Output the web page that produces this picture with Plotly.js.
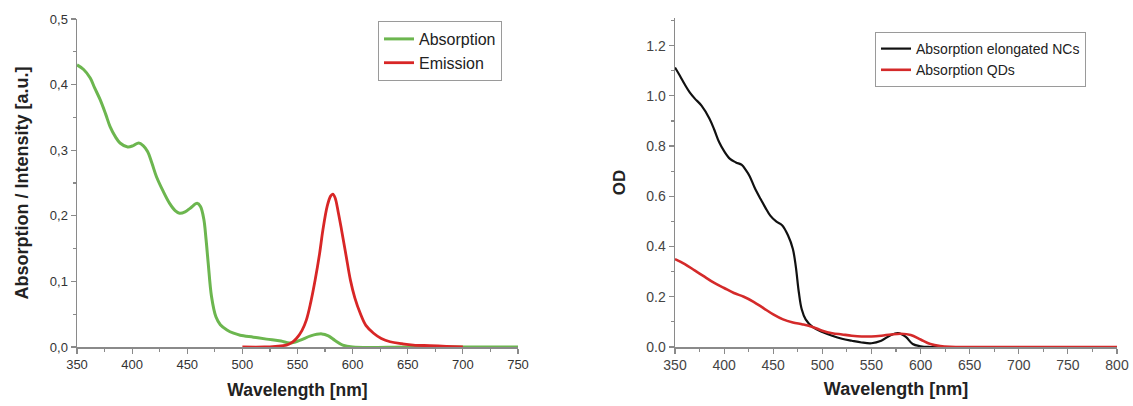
<!DOCTYPE html>
<html>
<head>
<meta charset="utf-8">
<script src="https://cdn.plot.ly/plotly-3.0.1.min.js"></script>
<style>
html,body{margin:0;padding:0;background:#fff;}
#chart{width:1133px;height:406px;}
</style>
</head>
<body>
<div id="chart"></div>
<script>
// Left panel: absorption & emission
const absWl = [350,356,362,366,371,376,380,385,389,396,401,406,410,414,418,422,428,434,439,443,448,453,459,462,465,467,469,472,476,480,486,492,498,510,522,535,543,552,562,572,578,584,591,600,650,700,750];
const absVal = [0.43,0.423,0.41,0.395,0.377,0.355,0.336,0.32,0.311,0.305,0.307,0.311,0.307,0.298,0.28,0.26,0.238,0.219,0.208,0.204,0.206,0.212,0.219,0.214,0.195,0.165,0.128,0.077,0.046,0.034,0.026,0.021,0.018,0.015,0.012,0.009,0.006,0.01,0.017,0.02,0.017,0.01,0.003,0,0,0,0];
const emWl = [500,520,530,540,545,549,554,558,562,566,570,573,577,580,582,584,587,590,594,598,602,607,612,619,626,634,645,655,670,685,700];
const emVal = [0,0,0.001,0.003,0.007,0.013,0.025,0.041,0.068,0.102,0.142,0.178,0.215,0.23,0.233,0.228,0.205,0.178,0.14,0.102,0.075,0.051,0.033,0.021,0.013,0.008,0.005,0.003,0.002,0.001,0];
const leftYTickVals = [0,0.1,0.2,0.3,0.4,0.5];
const leftYTickText = ['0,0','0,1','0,2','0,3','0,4','0,5'];

// Right panel: OD
const ncWl = [350,355,360,365,370,377,385,390,395,400,406,412,418,422,426,431,437,442,447,453,459,465,470,473,476,479,483,490,500,510,520,530,540,550,560,570,577,585,592,600,610,700,800];
const ncVal = [1.113,1.08,1.045,1.014,0.99,0.961,0.91,0.865,0.815,0.78,0.749,0.735,0.725,0.705,0.68,0.635,0.59,0.555,0.523,0.5,0.485,0.445,0.39,0.32,0.22,0.15,0.11,0.08,0.06,0.045,0.033,0.025,0.018,0.015,0.025,0.048,0.055,0.04,0.012,0.003,0,0,0];
const qdWl = [350,360,370,380,390,400,410,420,430,440,450,460,470,480,490,500,510,520,530,540,550,560,570,580,590,600,610,620,630,650,700,750,800];
const qdVal = [0.35,0.33,0.305,0.28,0.255,0.235,0.215,0.2,0.18,0.155,0.13,0.11,0.098,0.09,0.08,0.065,0.055,0.05,0.045,0.042,0.042,0.045,0.05,0.053,0.048,0.03,0.012,0.004,0.001,0,0,0,0];

const FONT = 'Liberation Sans, Arial, sans-serif';
const axisCommon = {
  showline: true, linecolor: '#8a8a8a', linewidth: 1.5,
  ticks: 'outside', ticklen: 5, tickwidth: 1.2, tickcolor: '#8a8a8a',
  showgrid: false, zeroline: false, mirror: false,
  tickfont: {family: FONT, size: 13, color: '#333'},
  automargin: false
};

const traces = [
  {x: absWl, y: absVal, name: 'Absorption', type: 'scatter', mode: 'lines',
   line: {color: '#6cb64f', width: 3, shape: 'spline'}, xaxis: 'x', yaxis: 'y', legend: 'legend'},
  {x: emWl, y: emVal, name: 'Emission', type: 'scatter', mode: 'lines',
   line: {color: '#d82626', width: 2.8, shape: 'spline'}, xaxis: 'x', yaxis: 'y', legend: 'legend'},
  {x: ncWl, y: ncVal, name: 'Absorption elongated NCs', type: 'scatter', mode: 'lines',
   line: {color: '#111', width: 2.2, shape: 'spline'}, xaxis: 'x2', yaxis: 'y2', legend: 'legend2'},
  {x: qdWl, y: qdVal, name: 'Absorption QDs', type: 'scatter', mode: 'lines',
   line: {color: '#d42a2a', width: 2.6, shape: 'spline'}, xaxis: 'x2', yaxis: 'y2', legend: 'legend2'}
];

const layout = {
  width: 1133, height: 406,
  margin: {l: 0, r: 0, t: 0, b: 0},
  paper_bgcolor: '#fff', plot_bgcolor: '#fff',
  font: {family: FONT, color: '#222'},
  showlegend: true,
  xaxis: Object.assign({}, axisCommon, {
    domain: [77/1133, 518/1133], range: [350, 750], dtick: 50, tick0: 350,
    minor: {dtick: 25, ticklen: 3, tickcolor: '#8a8a8a', ticks: 'outside'},
    anchor: 'y',
    title: {text: '<b>Wavelength [nm]</b>', font: {family: FONT, size: 17.5, color: '#222'}, standoff: 12}
  }),
  yaxis: Object.assign({}, axisCommon, {
    domain: [1 - 347/406, 1 - 19/406], range: [0, 0.5],
    tickvals: leftYTickVals, ticktext: leftYTickText,
    minor: {dtick: 0.05, ticklen: 3, tickcolor: '#8a8a8a', ticks: 'outside'},
    anchor: 'x',
    title: {text: '<b>Absorption / Intensity [a.u.]</b>', font: {family: FONT, size: 18, color: '#222'}, standoff: 16}
  }),
  xaxis2: Object.assign({}, axisCommon, {
    domain: [675/1133, 1117/1133], range: [350, 800], dtick: 50, tick0: 350,
    minor: {dtick: 25, ticklen: 3, tickcolor: '#8a8a8a', ticks: 'outside'},
    anchor: 'y2',
    tickfont: {family: FONT, size: 14, color: '#444'},
    title: {text: '<b>Wavelength [nm]</b>', font: {family: FONT, size: 18, color: '#222'}, standoff: 10}
  }),
  yaxis2: Object.assign({}, axisCommon, {
    domain: [1 - 347/406, 1 - 18/406], range: [0, 1.31], dtick: 0.2, tick0: 0,
    tickformat: '.1f',
    minor: {dtick: 0.1, ticklen: 3, tickcolor: '#8a8a8a', ticks: 'outside'},
    anchor: 'x2',
    tickfont: {family: FONT, size: 14, color: '#444'},
    title: {text: '<b>OD</b>', font: {family: FONT, size: 17, color: '#222'}, standoff: 16}
  }),
  legend: {
    x: 378/1133, y: 1 - 21/406, xanchor: 'left', yanchor: 'top',
    bordercolor: '#9a9a9a', borderwidth: 1, bgcolor: '#fff',
    font: {family: FONT, size: 16, color: '#222'},
    tracegroupgap: 0, itemwidth: 30
  },
  legend2: {
    x: 875/1133, y: 1 - 32/406, xanchor: 'left', yanchor: 'top',
    bordercolor: '#9a9a9a', borderwidth: 1, bgcolor: '#fff',
    font: {family: FONT, size: 14, color: '#222'},
    tracegroupgap: 0, itemwidth: 30
  }
};

Plotly.newPlot('chart', traces, layout, {displayModeBar: false, staticPlot: true});
</script>
</body>
</html>
